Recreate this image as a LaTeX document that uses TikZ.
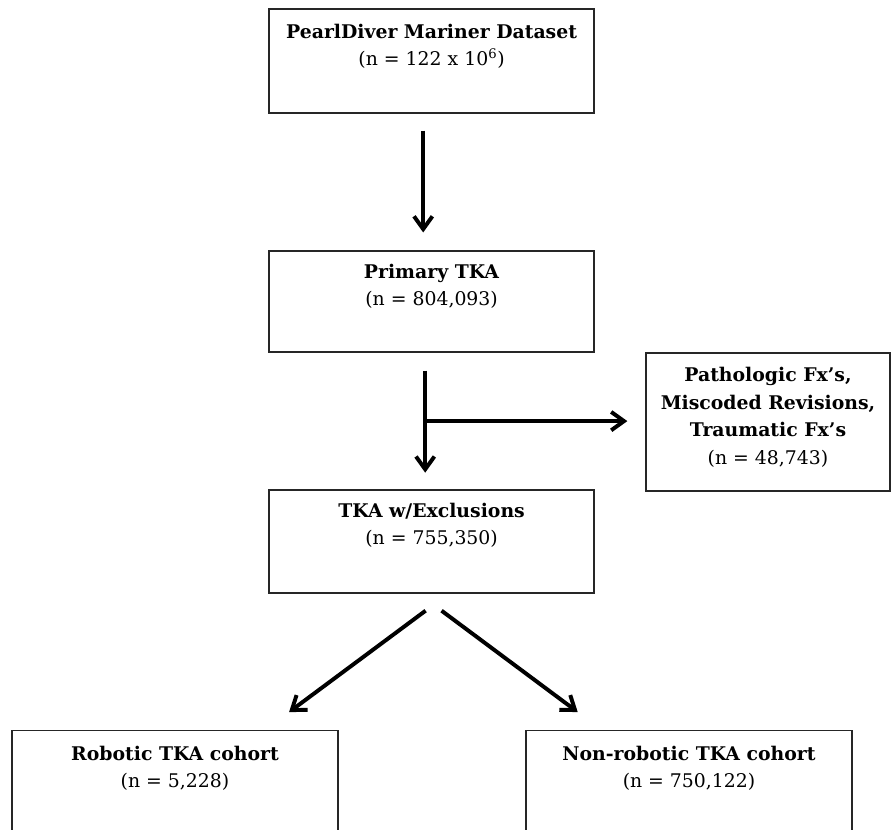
\documentclass[tikz,border=0pt]{standalone}
\usepackage{fontspec}
\setmainfont{DejaVu Serif}
\usetikzlibrary{arrows.meta,calc}

\begin{document}
\begin{tikzpicture}[every node/.style={font=\fontsize{13.4}{19.5}\selectfont},
   box/.style={draw=black!85,line width=0.9pt,minimum width=8.125cm,minimum height=2.6cm,inner sep=0pt},
   txt/.style={anchor=north,align=center,inner sep=0pt},
   arr/.style={line width=2.8pt,-{Straight Barb[length=0.32cm,width=0.46cm]}}]
\clip (0,0) rectangle (22.3,-20.75);
% boxes
\node[box] (pd)   at (10.79,-1.525) {};
\node[box,minimum height=2.525cm] (pri)  at (10.79,-7.54) {};
\node[box,minimum height=2.575cm] (excl) at (10.79,-13.54) {};
\node[box,minimum width=6.1cm,minimum height=3.45cm] (fx) at (19.2,-10.55) {};
\node[box,minimum width=8.15cm,minimum height=3cm,anchor=north] (rob)    at (4.375,-18.25) {};
\node[box,minimum width=8.15cm,minimum height=3cm,anchor=north] (nonrob) at (17.225,-18.25) {};
% texts
\node[txt] (pd-t)   at ([yshift=-0.39cm]pd.north)   {\textbf{PearlDiver Mariner Dataset}\\(n = 122 x 10\textsuperscript{6})};
\node[txt] (pri-t)  at ([yshift=-0.33cm]pri.north)   {\textbf{Primary TKA}\\(n = 804,093)};
\node[txt] (excl-t) at ([yshift=-0.33cm]excl.north)   {\textbf{TKA w/Exclusions}\\(n = 755,350)};
\node[txt] (fx-t)   at ([yshift=-0.37cm]fx.north)     {\textbf{Pathologic Fx’s,}\\\textbf{Miscoded Revisions,}\\\textbf{Traumatic Fx’s}\\(n = 48,743)};
\node[txt] (rob-t)  at ([yshift=-0.39cm]rob.north)  {\textbf{Robotic TKA cohort}\\(n = 5,228)};
\node[txt] (nonrob-t) at ([yshift=-0.39cm]nonrob.north) {\textbf{Non-robotic TKA cohort}\\(n = 750,122)};
% arrows
\draw[arr,shorten <=0.425cm,shorten >=0.45cm] ([xshift=-0.21cm]pd.south) -- ([xshift=-0.21cm]pri.north);
\draw[arr,shorten <=0.45cm,shorten >=0.42cm] ([xshift=-0.16cm]pri.south) -- ([xshift=-0.16cm]excl.north);
\coordinate (br) at ($([xshift=-0.16cm]pri.south)!0.5!([xshift=-0.16cm]excl.north)$);
\draw[arr,shorten >=0.45cm] (br) -- (br -| fx.west);
\draw[arr,shorten <=0.71cm,shorten >=0.75cm] ([xshift=0.42cm]excl.south) -- ([xshift=2.25cm]rob.north);
\draw[arr,shorten <=0.71cm,shorten >=0.75cm] ([xshift=-0.32cm]excl.south) -- ([xshift=-2.18cm]nonrob.north);
\end{tikzpicture}
\end{document}
